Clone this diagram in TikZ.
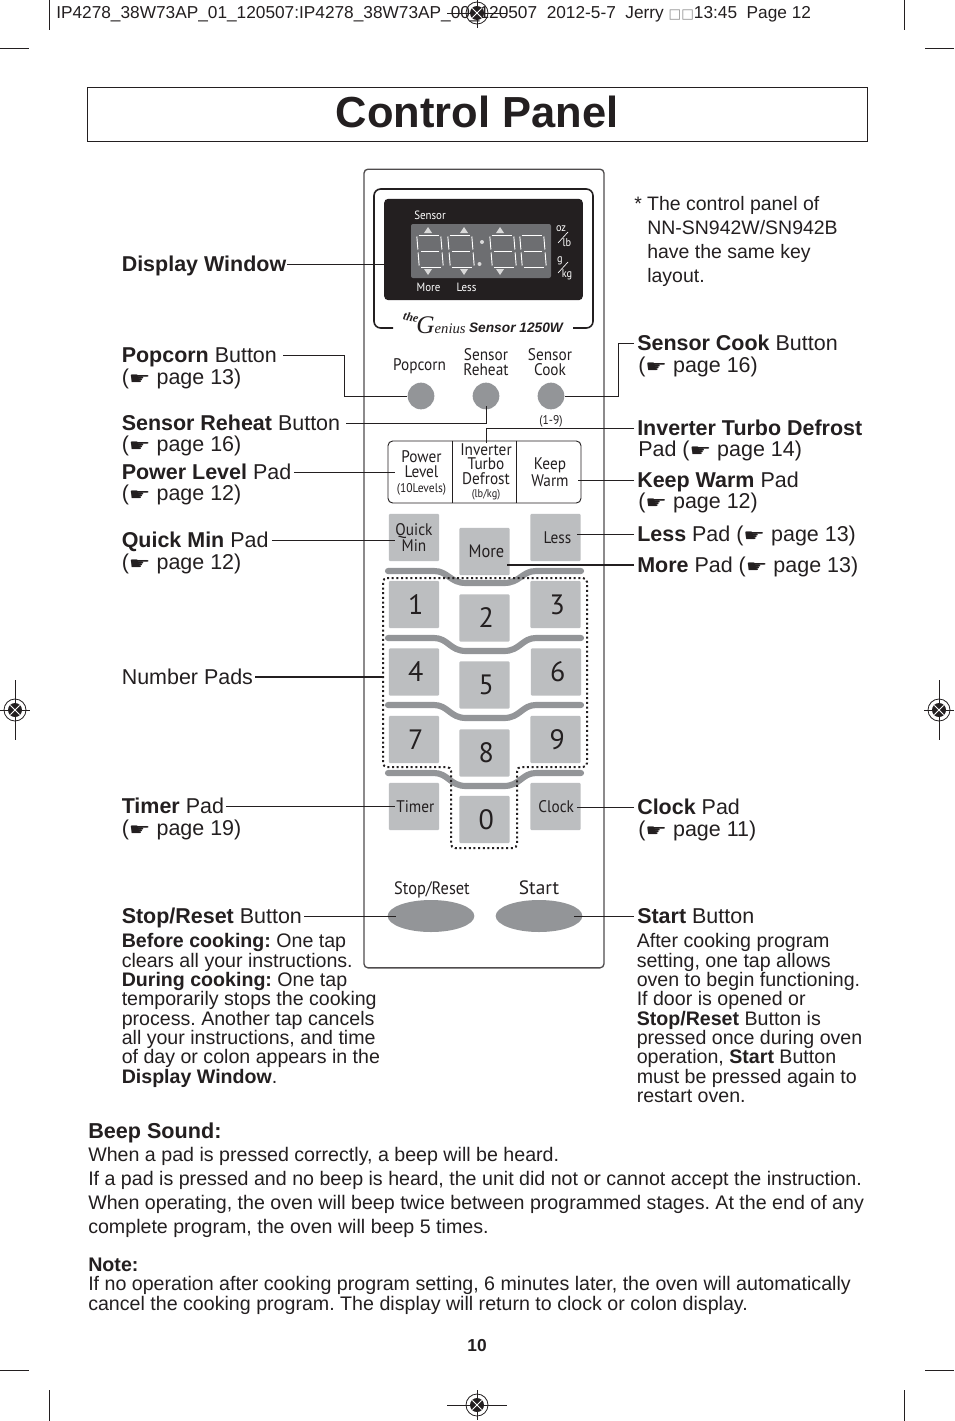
\documentclass[tikz,border=0pt]{standalone}
\usepackage{fontspec}
\setmainfont{Liberation Sans}
\newfontfamily\padfont[FakeStretch=0.91]{PT Sans}
\newfontfamily\numfont{PT Sans}
\newfontfamily\symfont{DejaVu Sans}
\newfontfamily\logofont{Liberation Serif}
\usetikzlibrary{positioning, calc, shapes.geometric}
\definecolor{inkc}{HTML}{231F20}
\definecolor{padc}{HTML}{BCBEC0}
\definecolor{btnc}{HTML}{939598}
\definecolor{lcdc}{HTML}{6D6E71}
\newcommand{\hand}{\scalebox{1.65}[1.15]{\symfont\fontsize{11}{11}\selectfont\char"261B}}

\begin{document}
\frenchspacing
\begin{tikzpicture}[
    x=0.75pt, y=-0.75pt,
    every node/.style={text=inkc, inner sep=0pt},
    lbl/.style={anchor=west, text height=10.5pt, text depth=0pt, font=\fontsize{16.1}{18}\selectfont},
    body/.style={anchor=north west, align=left, font=\fontsize{14.7}{14.6}\selectfont},
    para/.style={anchor=base west, font=\fontsize{14.72}{18}\selectfont},
    padtxt/.style={font=\padfont\fontsize{12.6}{11.6}\selectfont, align=center},
    keypad/.style={rectangle, rounded corners=1pt, fill=padc, minimum width=37.8pt, minimum height=35.5pt,
        font=\padfont\fontsize{12.6}{12.6}\selectfont, align=center},
    numpad/.style={keypad, font=\numfont\fontsize{21}{21}\selectfont, execute at begin node=\hspace*{2.5pt}},
    roundbtn/.style={circle, fill=btnc, minimum size=20pt},
    ovalbtn/.style={ellipse, fill=btnc, minimum width=65pt, minimum height=24pt},
    lead/.style={draw=inkc, line width=0.65pt},
    leadthick/.style={draw=inkc, line width=1.5pt},
    wave/.style={draw=btnc, line width=4.6pt, line cap=round},
    cropline/.style={draw=inkc, line width=0.6pt},
    pics/regmark/.style args={#1/#2}{code={
        \draw[inkc, line width=0.6pt] (-#1,0) -- (#1,0) (0,-#2) -- (0,#2);
        \draw[inkc, line width=0.6pt] (0,0) circle[radius=11];
        \fill[inkc] (0,0) circle[radius=7];
        \draw[white, line width=0.7pt] (-4.6,-4.6) -- (4.6,4.6) (-4.6,4.6) -- (4.6,-4.6);
    }},
    pics/lcddigit/.style={code={
        \begin{scope}[xslant=-0.08, draw=white, line width=0.7pt, double=lcdc, double distance=1.1pt]
            \draw (-10,-16) -- (10,-16);
            \draw (-9,0) -- (9,0);
            \draw (-10,16) -- (10,16);
            \draw (-12,-14.5) -- (-12,-1.5) (12,-14.5) -- (12,-1.5);
            \draw (-12,1.5) -- (-12,14.5) (12,1.5) -- (12,14.5);
        \end{scope}
    }},
]
\useasboundingbox (0,0) rectangle (954,1421);
\fill[white] (0,0) rectangle (954,1421);

% ===== Printer marks =====
\node[anchor=base west, font=\fontsize{12.95}{14}\selectfont] (slug) at (56,18.5)
    {IP4278\_38W73AP\_01\_120507:IP4278\_38W73AP\_00\_120507\ \ 2012-5-7\ \ Jerry {\symfont\fontsize{10}{10}\selectfont\textcolor{black!45}{□□}}13:45\ \ Page 12};
\draw[cropline] (49,0) -- (49,30) (904,0) -- (904,30);
\draw[cropline] (0,48) -- (29,48) (925,48) -- (954,48);
\draw[cropline] (0,1370) -- (29,1370) (925,1370) -- (954,1370);
\draw[cropline] (49,1390) -- (49,1421) (904,1390) -- (904,1421);
\pic at (477,13) {regmark={30/15}};
\pic at (15,710) {regmark={15/30}};
\pic at (939,710) {regmark={15/30}};
\pic at (477,1405) {regmark={30/15}};

% ===== Title =====
\node[draw=inkc, line width=0.6pt, minimum width=585pt, minimum height=40.5pt] (title) at (477,114) {};
\node[font=\fontsize{32.6}{36}\selectfont\bfseries] (titletext) at (477,112) {Control Panel};

% ===== Panel =====
\node[draw=inkc!80, line width=1pt, rounded corners=3pt, minimum width=180pt, minimum height=599pt] (panel) at (484,568.5) {};
\draw[inkc, line width=1.2pt, rounded corners=5pt] (393,328) -- (374,328) -- (374,189) -- (593,189) -- (593,328) -- (573,328);

% ===== Display =====
\node[fill=inkc, rounded corners=3pt, minimum width=149pt, minimum height=76pt] (display) at (483.5,249.5) {};
\node[fill=lcdc, rounded corners=1.5pt, minimum width=105pt, minimum height=40.5pt] (lcd) at (481,251) {};
\foreach \x in {430,461,503,533} {
    \pic at (\x,251) {lcddigit};
}
\foreach \x in {428,464,500} {
    \fill[white!85!black] (\x,227) -- (\x+4,233) -- (\x-4,233) -- cycle;
    \fill[white!85!black] (\x,275) -- (\x+4,269) -- (\x-4,269) -- cycle;
}
\fill[white!85!black] (482,242) circle[radius=2] (479.5,264) circle[radius=2];
\node[text=white, font=\padfont\fontsize{9}{9}\selectfont] (dsensor) at (430,215) {Sensor};
\node[text=white, font=\padfont\fontsize{9}{9}\selectfont] (dmore) at (428.5,287) {More};
\node[text=white, font=\padfont\fontsize{9}{9}\selectfont] (dless) at (466.5,287) {Less};
\node[text=white, font=\padfont\fontsize{8.5}{9}\selectfont] (doz) at (561,229) {oz};
\node[text=white, font=\padfont\fontsize{8.5}{9}\selectfont] (dlb) at (567,243) {lb};
\node[text=white, font=\padfont\fontsize{8.5}{9}\selectfont] (dg) at (560,261) {g};
\node[text=white, font=\padfont\fontsize{8.5}{9}\selectfont] (dkg) at (567,275) {kg};
\draw[white, line width=0.5pt] (558,243) -- (568,232) (558,273) -- (568,262);

% ===== Logo =====
\node[font=\logofont\fontsize{9}{9}\selectfont\bfseries\itshape, rotate=-12] (logothe) at (411,317) {the};
\node[anchor=base, font=\logofont\fontsize{11}{12}\selectfont\itshape] (logogen) at (441,333) {{\fontsize{19}{19}\selectfont G}enius};
\node[font=\fontsize{10.3}{12}\selectfont\bfseries\itshape] (logomod) at (516,328) {Sensor 1250W};

% ===== Round buttons =====
\node[padtxt] (tpop) at (419.5,366) {Popcorn};
\node[padtxt] (treh) at (486,362) {Sensor\\Reheat};
\node[padtxt] (tcook) at (550,362) {Sensor\\Cook};
\node[roundbtn] (popcorn) at (421,396) {};
\node[roundbtn] (reheat) at (486,396) {};
\node[roundbtn] (cook) at (551,396) {};
\node[font=\padfont\fontsize{9.5}{10}\selectfont] (cookrange) at (551,421) {(1-9)};

% ===== Power row =====
\node[draw=inkc, line width=0.7pt, rounded corners=3.5pt, minimum width=144.75pt, minimum height=46.5pt] (powerrow) at (484.5,472) {};
\draw[inkc, line width=0.7pt] (452,472 |- powerrow.north) -- (452,472 |- powerrow.south);
\draw[inkc, line width=0.7pt] (516,472 |- powerrow.north) -- (516,472 |- powerrow.south);
\node[padtxt] (tpower) at (421.5,473)
    {Power\\Level\\[-0.5pt]{\fontsize{9.5}{10}\selectfont(10Levels)}};
\node[padtxt, font=\padfont\fontsize{12.6}{10.8}\selectfont] (tturbo) at (486,472)
    {Inverter\\Turbo\\Defrost\\[-0.5pt]{\fontsize{8.5}{9}\selectfont(lb/kg)}};
\node[padtxt, font=\padfont\fontsize{12.6}{12.6}\selectfont] (tkeep) at (550,472) {Keep\\Warm};

% ===== Pads =====
\node[keypad] (quick) at (414,537.5) {Quick\\Min};
\node[keypad, font=\padfont\fontsize{13.5}{13.5}\selectfont] (more) at (484.5,551.5) {\hspace*{3pt}More};
\node[keypad] (less) at (555.5,537.5) {\hspace*{3pt}Less};
\node[numpad] (one) at (414,604.5) {1};
\node[numpad] (two) at (484.5,618) {2};
\node[numpad] (three) at (555.5,604.5) {3};
\node[numpad] (four) at (414,672) {4};
\node[numpad] (five) at (484.5,685) {5};
\node[numpad] (six) at (556,672) {6};
\node[numpad] (seven) at (414,739.5) {7};
\node[numpad] (eight) at (484.5,753) {8};
\node[numpad] (nine) at (555.5,739.5) {9};
\node[numpad] (zero) at (484.5,819.5) {0};
\node[keypad] (timer) at (414,806.5) {\hspace*{2pt}Timer};
\node[keypad] (clock) at (555.5,806.5) {\hspace*{1pt}Clock};

% ===== Wavy bars =====
\foreach \ya/\yb in {571/583, 638/651, 705/718, 773/786} {
    \draw[wave] (388,\ya) -- (434,\ya) .. controls (448,\ya) and (450,\yb) .. (466,\yb)
        -- (504,\yb) .. controls (520,\yb) and (522,\ya) .. (536,\ya) -- (581,\ya);
}

% ===== Dotted group =====
\draw[inkc, line width=1.5pt, dotted, rounded corners=3pt]
    (383,578) -- (587,578) -- (587,767) -- (517,767) -- (517,848) -- (451,848) -- (451,767) -- (383,767) -- cycle;

% ===== Start / Stop =====
\node[padtxt, font=\padfont\fontsize{13.5}{14}\selectfont] (tstop) at (432,890) {Stop/Reset};
\node[padtxt, font=\numfont\fontsize{14.5}{14}\selectfont] (tstart) at (539,888) {Start};
\node[ovalbtn] (stop) at (431,916) {};
\node[ovalbtn] (start) at (539,916) {};

% ===== Left labels =====
\node[lbl] (ldisplay) at (121.5,264) {\textbf{Display Window}};
\node[lbl] (lpopcorn) at (121.5,355) {\textbf{Popcorn} Button};
\node[lbl] (lpopcorn2) at (121.5,377) {(\hand\ page 13)};
\node[lbl] (lreheat) at (121.5,423) {\textbf{Sensor Reheat} Button};
\node[lbl] (lreheat2) at (121.5,444) {(\hand\ page 16)};
\node[lbl] (lpower) at (121.5,472) {\textbf{Power Level} Pad};
\node[lbl] (lpower2) at (121.5,493) {(\hand\ page 12)};
\node[lbl] (lquick) at (121.5,540) {\textbf{Quick Min} Pad};
\node[lbl] (lquick2) at (121.5,562) {(\hand\ page 12)};
\node[lbl] (lnumber) at (121.5,677) {Number Pads};
\node[lbl] (ltimer) at (121.5,806) {\textbf{Timer} Pad};
\node[lbl] (ltimer2) at (121.5,828) {(\hand\ page 19)};
\node[lbl] (lstop) at (121.5,916) {\textbf{Stop/Reset} Button};
\node[body] (lstopbody) at (121.5,933.5) {\textbf{Before cooking:} One tap\\[-0.1pt]
    clears all your instructions.\\[-0.1pt]
    \textbf{During cooking:} One tap\\[-0.1pt]
    temporarily stops the cooking\\[-0.1pt]
    process. Another tap cancels\\[-0.1pt]
    all your instructions, and time\\[-0.1pt]
    of day or colon appears in the\\[-0.1pt]
    \textbf{Display Window}.};

% ===== Right labels =====
\node[body, font=\fontsize{14.6}{18}\selectfont] (lnote) at (634,196) {* The control panel of\\
    \hspace*{9.8pt}NN-SN942W/SN942B\\
    \hspace*{9.8pt}have the same key\\
    \hspace*{9.8pt}layout.};
\node[lbl] (lcook) at (637,343) {\textbf{Sensor Cook} Button};
\node[lbl] (lcook2) at (638,365) {(\hand\ page 16)};
\node[lbl] (lturbo) at (637,428) {\textbf{Inverter Turbo Defrost}};
\node[lbl] (lturbo2) at (638,449) {Pad (\hand\ page 14)};
\node[lbl] (lkeep) at (637,480) {\textbf{Keep Warm} Pad};
\node[lbl] (lkeep2) at (638,501) {(\hand\ page 12)};
\node[lbl] (lless) at (637,534) {\textbf{Less} Pad (\hand\ page 13)};
\node[lbl] (lmore) at (637,565) {\textbf{More} Pad (\hand\ page 13)};
\node[lbl] (lclock) at (637,807) {\textbf{Clock} Pad};
\node[lbl] (lclock2) at (638,829) {(\hand\ page 11)};
\node[lbl] (lstart) at (637,916) {\textbf{Start} Button};
\node[body] (lstartbody) at (636.5,933.5) {After cooking program\\[-0.1pt]
    setting, one tap allows\\[-0.1pt]
    oven to begin functioning.\\[-0.1pt]
    If door is opened or\\[-0.1pt]
    \textbf{Stop/Reset} Button is\\[-0.1pt]
    pressed once during oven\\[-0.1pt]
    operation, \textbf{Start} Button\\[-0.1pt]
    must be pressed again to\\[-0.1pt]
    restart oven.};

% ===== Connectors =====
\draw[lead] (ldisplay.east) ++(1,0) -- (ldisplay.east -| display.west);
\draw[lead] (lpopcorn.east) ++(6,0) -- ++(61,0) |- (popcorn.west);
\draw[lead] (lreheat.east) ++(6,0) -| ($(reheat.south)+(0,-4)$);
\draw[lead] (lcook.west) ++(-3,0) -- ++(-16,0) |- (cook.east);
\draw[lead] (lturbo.west) ++(-3,0) -| (tturbo.north);
\draw[lead] (lpower.east) ++(3,0) -- ($(lpower.east -| powerrow.west)+(7,0)$);
\draw[lead] (lkeep.west) ++(-3,0) -- ($(lkeep.west -| powerrow.east)+(-3,0)$);
\draw[lead] (lless.west) ++(-3,0) -- ($(lless.west -| less.east)+(-4,0)$);
\draw[lead] (lquick.east) ++(3,0) -- ($(lquick.east -| quick.west)+(6,0)$);
\draw[leadthick] (lnumber.east) ++(2,0) -- ($(lnumber.east -| one.west)+(-5,0)$);
\draw[leadthick] (lmore.west) ++(-3,0) -- ($(lmore.west -| more.east)+(-3,0)$);
\draw[lead] (ltimer.east) ++(2,0) -- ($(ltimer.east -| timer.west)+(6,0)$);
\draw[lead] (lclock.west) ++(-3,0) -- ($(lclock.west -| clock.east)+(-4,0)$);
\draw[lead] (lstop.east) ++(2,0) -- ($(lstop.east -| stop.west)+(9,0)$);
\draw[lead] (lstart.west) ++(-3,0) -- ($(lstart.west -| start.east)+(-9,0)$);

% ===== Beep and note =====
\node[para, font=\fontsize{16.2}{18}\selectfont\bfseries] (beephead) at (88,1138) {Beep Sound:};
\node[para] (beep1) at (88,1161) {When a pad is pressed correctly, a beep will be heard.};
\node[para] (beep2) at (88,1185) {If a pad is pressed and no beep is heard, the unit did not or cannot accept the instruction.};
\node[para] (beep3) at (88,1209) {When operating, the oven will beep twice between programmed stages. At the end of any};
\node[para] (beep4) at (88,1233) {complete program, the oven will beep 5 times.};
\node[para, font=\fontsize{14.75}{18}\selectfont\bfseries] (notehead) at (88,1271) {Note:};
\node[para] (note1) at (88,1290) {If no operation after cooking program setting, 6 minutes later, the oven will automatically};
\node[para] (note2) at (88,1310) {cancel the cooking program. The display will return to clock or colon display.};
\node[font=\fontsize{13}{14}\selectfont\bfseries] (pagenum) at (477,1345.5) {10};

\end{tikzpicture}
\end{document}
